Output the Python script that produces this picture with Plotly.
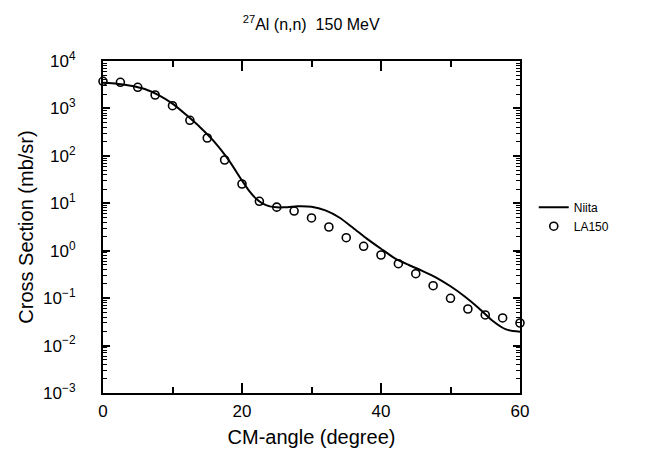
import plotly.graph_objects as go

# LA150 evaluation points (open circles)
la150_angle = [0, 2.5, 5, 7.5, 10, 12.5, 15, 17.5, 20, 22.5, 25, 27.5, 30,
               32.5, 35, 37.5, 40, 42.5, 45, 47.5, 50, 52.5, 55, 57.5, 60]
la150_xs = [3730, 3560, 2790, 1920, 1140, 562, 238, 81.8, 25.5, 11.0, 8.28,
            6.87, 4.90, 3.16, 1.88, 1.24, 0.812, 0.533, 0.328, 0.183,
            0.0993, 0.059, 0.0442, 0.0382, 0.0299]

# Niita calculation (solid curve)
niita_angle = [0, 2, 4, 6, 8, 10, 12, 14, 16, 18, 20, 21, 22, 23, 24, 25, 26,
               28, 30, 32, 34, 36, 38, 40, 42, 44, 46, 48, 50, 52, 54, 56, 58, 60]
niita_xs = [3470, 3310, 3020, 2570, 1905, 1259, 724, 398, 200, 85.1, 30.2,
            18.5, 12.6, 9.8, 8.6, 8.2, 8.2, 8.61, 8.41, 7.08, 5.01, 3.02,
            1.78, 1.10, 0.69, 0.50, 0.372, 0.269, 0.178, 0.110, 0.0631,
            0.0339, 0.0219, 0.0195]

ytick_vals = [1e-3, 1e-2, 1e-1, 1, 10, 100, 1e3, 1e4]
ytick_text = ["10<sup>−3</sup>", "10<sup>−2</sup>", "10<sup>−1</sup>", "10<sup>0</sup>",
              "10<sup>1</sup>", "10<sup>2</sup>", "10<sup>3</sup>", "10<sup>4</sup>"]
xtick_vals = [0, 20, 40, 60]

font = "Liberation Sans, Arial, sans-serif"

fig = go.Figure()
fig.add_trace(go.Scatter(
    x=niita_angle, y=niita_xs, mode="lines", name="Niita",
    line=dict(color="black", width=2, shape="spline", smoothing=0.6)
))
fig.add_trace(go.Scatter(
    x=la150_angle, y=la150_xs, mode="markers", name="LA150",
    marker=dict(symbol="circle-open", size=8, color="black",
                line=dict(color="black", width=1.6)),
    cliponaxis=False
))
# empty trace so the overlay axes (inside ticks) get drawn
fig.add_trace(go.Scatter(x=[], y=[], xaxis="x2", yaxis="y2", showlegend=False,
                         hoverinfo="skip"))

fig.update_layout(
    width=645, height=455,
    margin=dict(l=95, r=133, t=53, b=70),
    plot_bgcolor="white", paper_bgcolor="white",
    font=dict(family=font, size=17, color="black"),
    title=dict(text="<sup>27</sup>Al (n,n)  150 MeV", x=0.47, xanchor="center",
               y=0.965, yanchor="middle", font=dict(size=16)),
    legend=dict(x=1.033, y=0.531, xanchor="left", yanchor="middle",
                font=dict(size=12), bgcolor="rgba(0,0,0,0)",
                tracegroupgap=0),
    showlegend=True,
    # main axes: labels, pushed away from the frame by invisible outside ticks
    xaxis=dict(
        range=[0, 60], tickvals=xtick_vals, ticks="outside", ticklen=2,
        tickcolor="rgba(0,0,0,0)", showline=True, linewidth=2,
        linecolor="black", mirror=True, showgrid=False, zeroline=False,
        title=dict(text="CM-angle (degree)", standoff=10),
    ),
    yaxis=dict(
        type="log", range=[-3, 4], tickvals=ytick_vals, ticktext=ytick_text,
        ticks="outside", ticklen=22, tickcolor="rgba(0,0,0,0)",
        showline=True, linewidth=2, linecolor="black", mirror=True,
        showgrid=False, zeroline=False,
        title=dict(text="Cross Section (mb/sr)", standoff=4),
    ),
    # overlay axes: the inside major/minor ticks on all four sides
    xaxis2=dict(
        overlaying="x", anchor="y2", side="bottom", range=[0, 60],
        tickmode="linear", tick0=0, dtick=20, ticks="inside", ticklen=10,
        tickwidth=1.5, tickcolor="black", mirror="ticks", showline=True,
        linewidth=2, linecolor="black", showticklabels=False,
        showgrid=False, zeroline=False,
        minor=dict(dtick=10, ticks="inside", ticklen=6, tickwidth=1.5,
                   tickcolor="black", showgrid=False),
    ),
    yaxis2=dict(
        overlaying="y", anchor="x2", side="left", type="log", range=[-3, 4],
        tickmode="linear", tick0=0, dtick=1, ticks="inside", ticklen=7,
        tickwidth=1.5, tickcolor="black", mirror="ticks", showline=True,
        linewidth=2, linecolor="black", showticklabels=False,
        showgrid=False, zeroline=False,
        minor=dict(ticks="inside", ticklen=4, tickwidth=1, tickcolor="black",
                   showgrid=False),
    ),
)

fig.write_html("out.html")
